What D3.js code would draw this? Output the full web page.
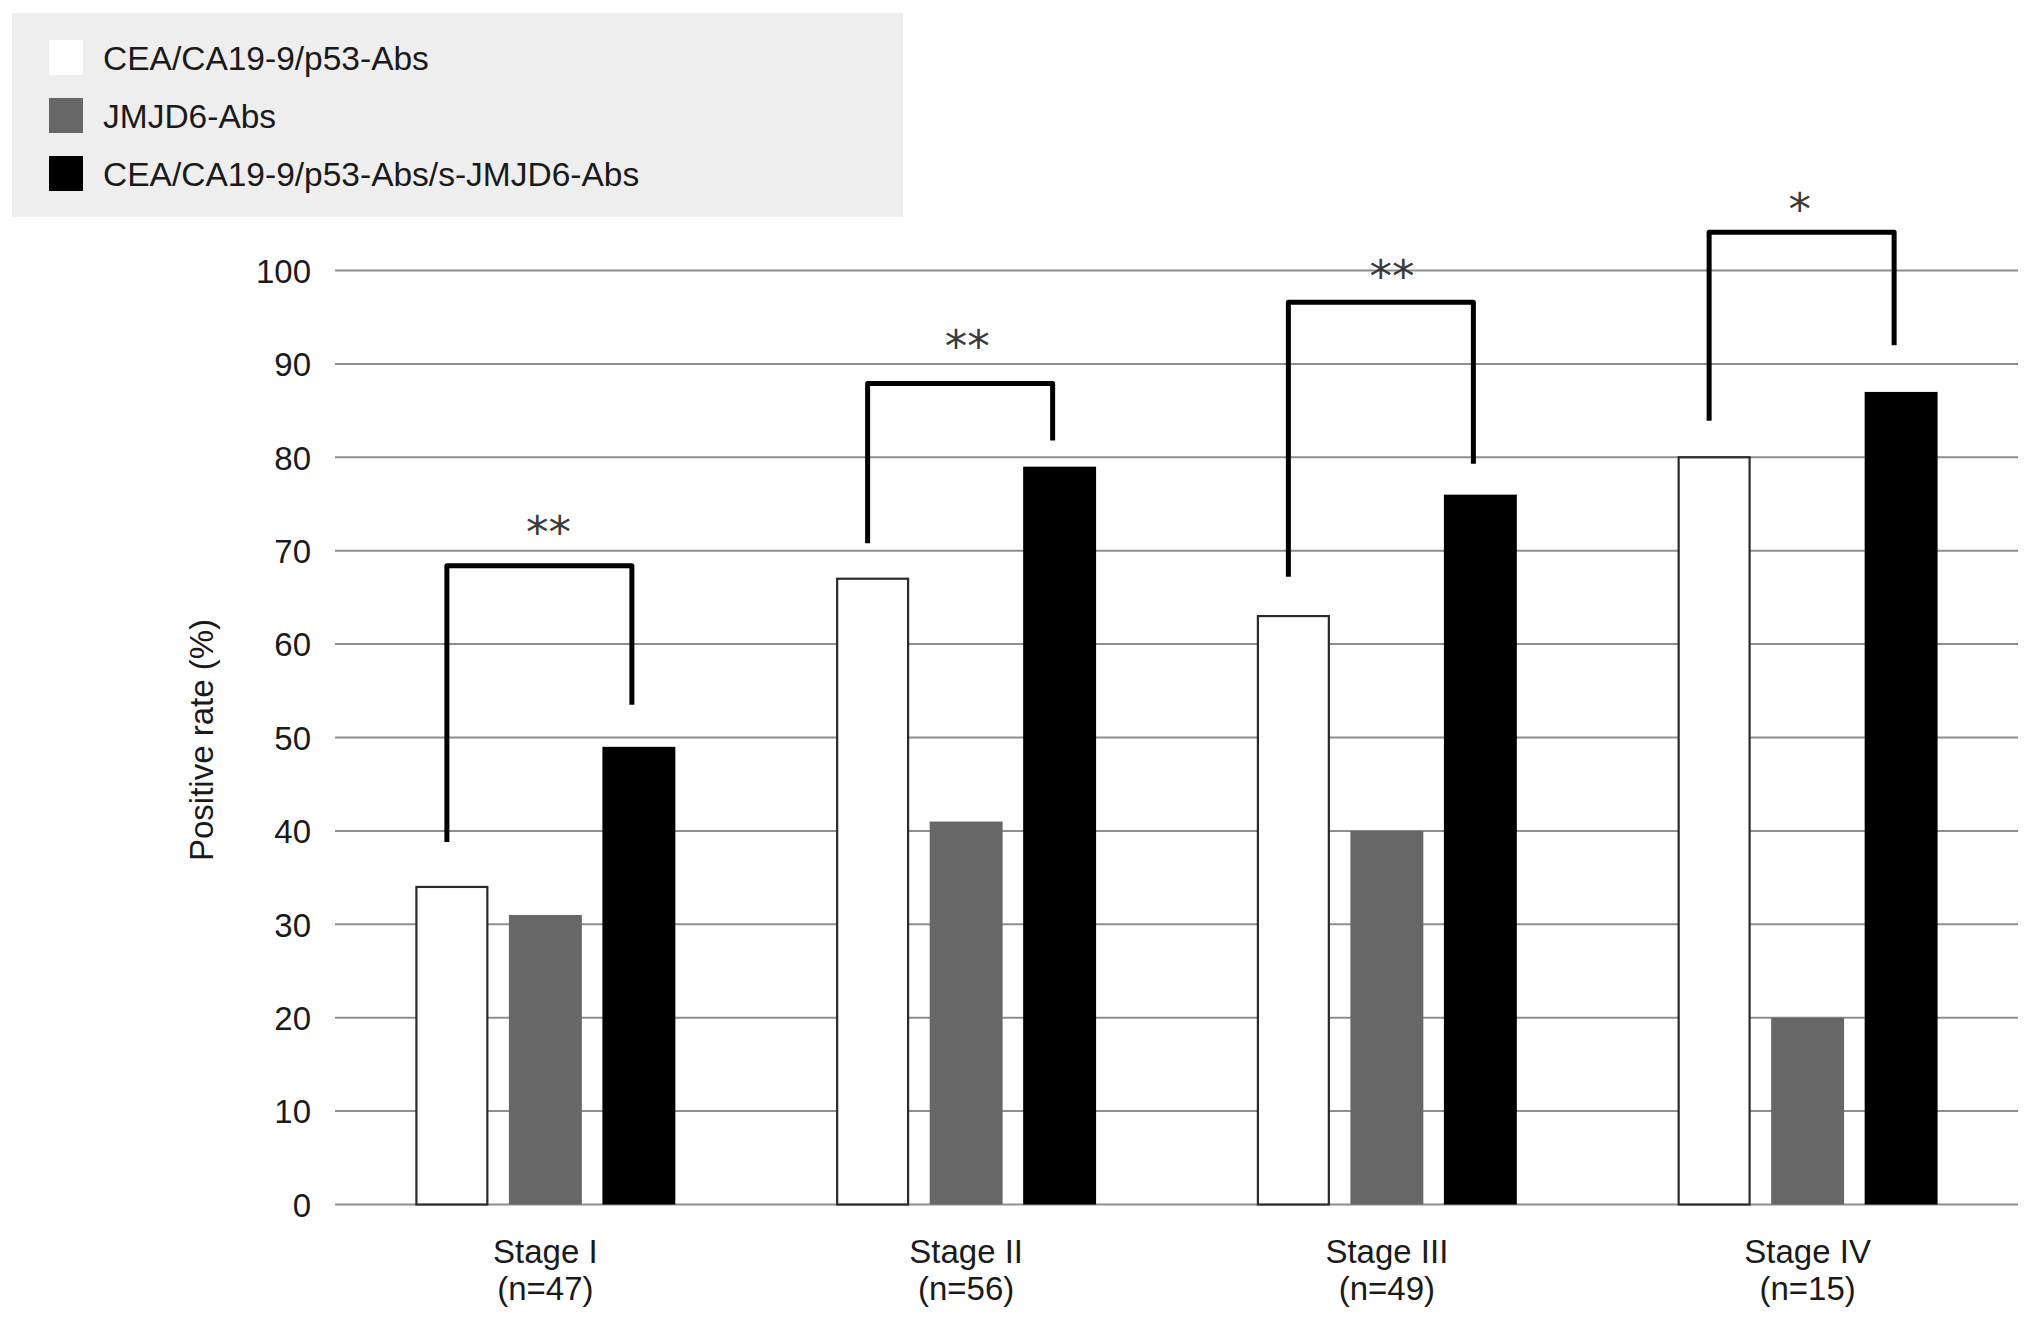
<!DOCTYPE html>
<html>
<head>
<meta charset="utf-8">
<script src="https://cdn.jsdelivr.net/npm/d3@7"></script>
<style>
  html, body { margin: 0; padding: 0; background: #fff; }
  svg { display: block; }
  text { font-family: "Liberation Sans", Arial, Helvetica, sans-serif; fill: #1a1a1a; }
</style>
</head>
<body>
<svg id="chart" width="2032" height="1322"></svg>
<script>
// ---- data ----
const stages = ["Stage I", "Stage II", "Stage III", "Stage IV"];
const stageN = ["(n=47)", "(n=56)", "(n=49)", "(n=15)"];
const series = ["CEA/CA19-9/p53-Abs", "JMJD6-Abs", "CEA/CA19-9/p53-Abs/s-JMJD6-Abs"];
const seriesColors = ["#ffffff", "#676767", "#000000"];
const valuesCEA = [34, 67, 63, 80];
const valuesJMJD6 = [31, 41, 40, 20];
const valuesCombined = [49, 79, 76, 87];
const yTicks = [0, 10, 20, 30, 40, 50, 60, 70, 80, 90, 100];
// significance brackets (in % units)
const bracketTop = [68.4, 87.9, 96.6, 104.1];
const bracketLeftEnd = [38.8, 70.8, 67.2, 83.9];
const bracketRightEnd = [53.5, 81.8, 79.3, 92.0];
const sigLabels = ["**", "**", "**", "*"];
const sigLabelY = [72.9, 92.9, 100.3, 107.5];
const sigLabelShift = [3, 1, 5, -8];

const allValues = [valuesCEA, valuesJMJD6, valuesCombined];
const FS = 33;

const svg = d3.select("#chart");

const x0 = d3.scaleBand().domain(stages).range([335, 2018]).paddingInner(0).paddingOuter(0);
const x1 = d3.scaleBand().domain(series).range([0, x0.bandwidth()]).paddingInner(0.22).paddingOuter(0.86);
const y = d3.scaleLinear().domain([0, 100]).range([1204.5, 270.5]);

// gridlines
svg.append("g")
  .selectAll("line")
  .data(yTicks)
  .join("line")
  .attr("x1", 335).attr("x2", 2018)
  .attr("y1", d => y(d)).attr("y2", d => y(d))
  .attr("stroke", "#8e8e8e").attr("stroke-width", 2);

// y axis labels
const yAxis = d3.axisLeft(y).tickValues(yTicks).tickSize(0).tickPadding(0);
const yg = svg.append("g").attr("transform", "translate(311,0)").call(yAxis);
yg.select(".domain").remove();
yg.selectAll("text")
  .attr("font-size", FS)
  .attr("font-family", "'Liberation Sans', Arial, sans-serif")
  .attr("fill", "#1a1a1a")
  .attr("dy", "0.36em");

// y axis title
svg.append("text")
  .attr("transform", "translate(213,740) rotate(-90)")
  .attr("text-anchor", "middle")
  .attr("font-size", FS)
  .text("Positive rate (%)");

// bars
const groups = svg.append("g").selectAll("g")
  .data(stages)
  .join("g")
  .attr("transform", d => `translate(${x0(d)},0)`);

groups.selectAll("rect")
  .data((s, i) => series.map((name, k) => ({ name, k, v: allValues[k][i] })))
  .join("rect")
  .attr("x", d => x1(d.name) + (d.k === 0 ? 1 : 0))
  .attr("width", d => x1.bandwidth() - (d.k === 0 ? 2 : 0))
  .attr("y", d => y(d.v))
  .attr("height", d => y(0) - y(d.v))
  .attr("fill", d => seriesColors[d.k])
  .attr("stroke", d => d.k === 0 ? "#2a2a2a" : "none")
  .attr("stroke-width", 2.2);

// x labels
const xl = svg.append("g");
stages.forEach((s, i) => {
  const cx = x0(s) + x0.bandwidth() / 2;
  xl.append("text").attr("x", cx).attr("y", 1263).attr("text-anchor", "middle")
    .attr("font-size", FS).text(s);
  xl.append("text").attr("x", cx).attr("y", 1300).attr("text-anchor", "middle")
    .attr("font-size", FS).text(stageN[i]);
});

// significance brackets
const br = svg.append("g");
stages.forEach((s, i) => {
  const xl0 = x0(s) + x1(series[0]) + x1.bandwidth() / 2 - 5;
  const xr0 = x0(s) + x1(series[2]) + x1.bandwidth() / 2 - 7;
  br.append("path")
    .attr("d", `M${xl0},${y(bracketLeftEnd[i])} L${xl0},${y(bracketTop[i])} L${xr0},${y(bracketTop[i])} L${xr0},${y(bracketRightEnd[i])}`)
    .attr("fill", "none").attr("stroke", "#000").attr("stroke-width", 5)
    .attr("stroke-linejoin", "round");
  br.append("text")
    .attr("x", x0(s) + x0.bandwidth() / 2 + sigLabelShift[i])
    .attr("y", y(sigLabelY[i]))
    .attr("dy", "0.55em")
    .attr("text-anchor", "middle")
    .attr("font-size", 45)
    .attr("style", "font-family:'DejaVu Sans', sans-serif; fill:#3a3a3a")
    .text(sigLabels[i]);
});

// legend
const lg = svg.append("g");
lg.append("rect").attr("x", 12).attr("y", 13).attr("width", 891).attr("height", 204).attr("fill", "#eeeeee");
series.forEach((name, k) => {
  lg.append("rect").attr("x", 49).attr("y", 40 + k * 58).attr("width", 34).attr("height", 35)
    .attr("fill", seriesColors[k]);
  lg.append("text").attr("x", 103).attr("y", 70 + k * 58).attr("font-size", 33.5).text(name);
});
</script>
</body>
</html>
